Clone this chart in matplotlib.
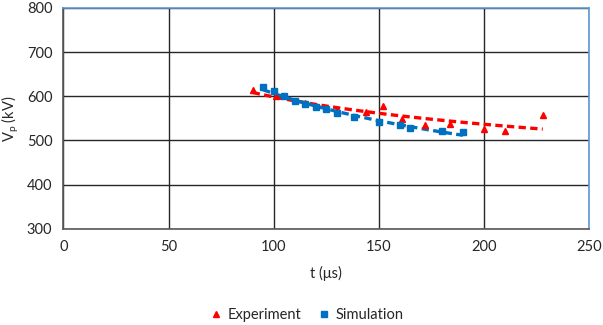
import numpy as np
import matplotlib.pyplot as plt

# Experiment (triangles)
exp_t = [90, 101, 115, 130, 144, 152, 161, 172, 184, 200, 210, 228]
exp_v = [614, 600, 585, 570, 565, 578, 549, 534, 538, 525, 522, 557]

# Simulation (squares)
sim_t = [95, 100, 105, 110, 115, 120, 125, 130, 138, 150, 160, 165, 180, 190]
sim_v = [620, 611, 600, 590, 582, 576, 571, 562, 553, 541, 535, 529, 522, 518]

plt.rcParams['font.family'] = ['Lato', 'DejaVu Sans']

fig = plt.figure(figsize=(6.03, 3.25), dpi=100)
ax = fig.add_axes([0.1053, 0.2963, 0.8715, 0.6791])

red = '#FF0000'
blue = '#0070C0'

ax.plot(exp_t, exp_v, '^', color=red, ms=5, label='Experiment', zorder=3)
ax.plot(sim_t, sim_v, 's', color=blue, ms=4.3, label='Simulation', zorder=3)


def power_trend(t, v):
    # power-law trendline as in the spreadsheet
    b, a = np.polyfit(np.log(t), np.log(v), 1)
    tt = np.linspace(min(t), max(t), 100)
    return tt, np.exp(a) * tt ** b


for t, v, c in [(exp_t, exp_v, red), (sim_t, sim_v, blue)]:
    tt, vv = power_trend(t, v)
    ax.plot(tt, vv, '--', color=c, lw=2.4, dashes=(2.2, 1.3), zorder=2)

ax.set_xlim(0, 250)
ax.set_ylim(300, 800)
ax.set_xticks(range(0, 251, 50))
ax.set_yticks(range(300, 801, 100))
ax.grid(True, color='#262626', lw=1.0)
ax.set_axisbelow(True)
ax.tick_params(length=0, labelsize=10.5, colors='#262626', pad=8)

for s in ['left', 'bottom']:
    ax.spines[s].set_color('#595959')
    ax.spines[s].set_linewidth(1.2)
for s in ['top', 'right']:
    ax.spines[s].set_color('#5B9BD5')
    ax.spines[s].set_linewidth(1.2)

ax.set_xlabel('t (\u03bcs)', fontsize=10.5, color='#262626', labelpad=9)
ax.set_ylabel('V$_\\mathregular{p}$ (kV)', fontsize=10.5, color='#262626', labelpad=4)

fig.legend(loc='lower center', bbox_to_anchor=(0.51, -0.03), ncol=2, frameon=False,
           fontsize=10.5, handlelength=0.6, handletextpad=0.5, columnspacing=1.2,
           labelcolor='#262626')

fig.savefig('out.png', dpi=100)
